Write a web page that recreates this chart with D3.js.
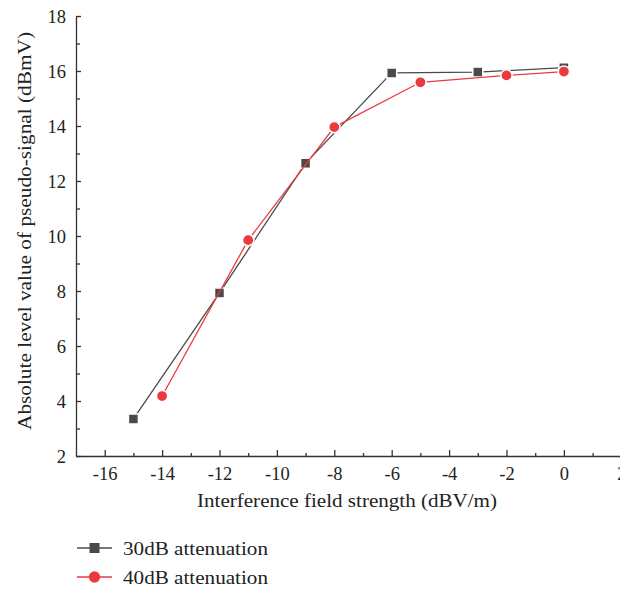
<!DOCTYPE html>
<html>
<head>
<meta charset="utf-8">
<script src="https://cdn.jsdelivr.net/npm/d3@7"></script>
<style>
  body { margin: 0; background: #fff; }
  svg { display: block; }
  text { font-family: "Liberation Serif", "DejaVu Serif", serif; fill: #222; }
</style>
</head>
<body>
<svg id="chart" width="620" height="589"></svg>
<script>
// data
var xs30 = [-15, -12, -9, -6, -3, 0];
var ys30 = [3.35, 7.93, 12.65, 15.93, 15.96, 16.12];
var xs40 = [-14, -11, -8, -5, -2, 0];
var ys40 = [4.18, 9.85, 13.96, 15.59, 15.84, 15.98];
var seriesNames = ['30dB attenuation', '40dB attenuation'];
var xMajor = [-16, -14, -12, -10, -8, -6, -4, -2, 0, 2];
var xMinor = [-15, -13, -11, -9, -7, -5, -3, -1, 1];
var yMajor = [2, 4, 6, 8, 10, 12, 14, 16, 18];
var yMinor = [3, 5, 7, 9, 11, 13, 15, 17];

var gray = '#4a4a4a', red = '#ea3a3f';

var svg = d3.select('#chart');

var x = d3.scaleLinear().domain([-17, 3]).range([76, 650]);
var y = d3.scaleLinear().domain([2, 18]).range([456, 16]);

// x axis, ticks point inward
var gx = svg.append('g').attr('transform', 'translate(0,456)');
gx.call(d3.axisBottom(x).tickValues(xMajor).tickSizeInner(-6).tickSizeOuter(0)
    .tickFormat(function(d) { return d < 0 ? '-' + Math.abs(d) : d; }));
gx.append('g').call(d3.axisBottom(x).tickValues(xMinor).tickSizeInner(-3).tickSizeOuter(0).tickFormat(''))
    .select('.domain').remove();
gx.selectAll('text').attr('y', 24).attr('dy', 0).style('font-size', '18.5px')
    .attr('font-family', null);

var gy = svg.append('g').attr('transform', 'translate(76,0)');
gy.call(d3.axisLeft(y).tickValues(yMajor).tickSizeInner(-5).tickSizeOuter(0));
gy.append('g').call(d3.axisLeft(y).tickValues(yMinor).tickSizeInner(-4).tickSizeOuter(0).tickFormat(''))
    .select('.domain').remove();
gy.selectAll('text').attr('x', -10).attr('dy', '0.36em').style('font-size', '18.5px')
    .attr('font-family', null);

svg.selectAll('.domain, .tick line').attr('stroke', '#333').attr('stroke-width', 1.3);

// axis titles (reference font is wider, so stretch to its measured length)
svg.append('text').attr('x', 347).attr('y', 507).attr('text-anchor', 'middle')
    .attr('textLength', 300).attr('lengthAdjust', 'spacingAndGlyphs')
    .style('font-size', '19px').text('Interference field strength (dBV/m)');
svg.append('text').attr('transform', 'translate(31,231) rotate(-90)').attr('text-anchor', 'middle')
    .attr('textLength', 398).attr('lengthAdjust', 'spacingAndGlyphs')
    .style('font-size', '19px').text('Absolute level value of pseudo-signal (dBmV)');

var line = d3.line().x(function(d) { return x(d[0]); }).y(function(d) { return y(d[1]); });

function drawSeries(xs, ys, color, shape) {
    var pts = xs.map(function(v, i) { return [v, ys[i]]; });
    svg.append('path').datum(pts).attr('d', line).attr('fill', 'none')
        .attr('stroke', color).attr('stroke-width', 1.3);
    svg.append('g').selectAll('path').data(pts).enter().append('path')
        .attr('transform', function(d) { return 'translate(' + x(d[0]) + ',' + y(d[1]) + ')'; })
        .attr('d', d3.symbol().type(shape).size(100)())
        .attr('fill', color).attr('stroke', '#fff').attr('stroke-width', 1.5);
}
drawSeries(xs30, ys30, gray, d3.symbolSquare);
drawSeries(xs40, ys40, red, d3.symbolCircle);

// legend
var legend = svg.append('g');
[[gray, d3.symbolSquare], [red, d3.symbolCircle]].forEach(function(s, i) {
    var ly = 548 + i * 29;
    legend.append('line').attr('x1', 77).attr('x2', 112).attr('y1', ly).attr('y2', ly)
        .attr('stroke', s[0]).attr('stroke-width', 1.3);
    legend.append('path').attr('transform', 'translate(94.5,' + ly + ')')
        .attr('d', d3.symbol().type(s[1]).size(100)()).attr('fill', s[0]);
    legend.append('text').attr('x', 123).attr('y', ly + 6.5).style('font-size', '19px')
        .attr('textLength', 145).attr('lengthAdjust', 'spacingAndGlyphs')
        .text(seriesNames[i]);
});
</script>
</body>
</html>
